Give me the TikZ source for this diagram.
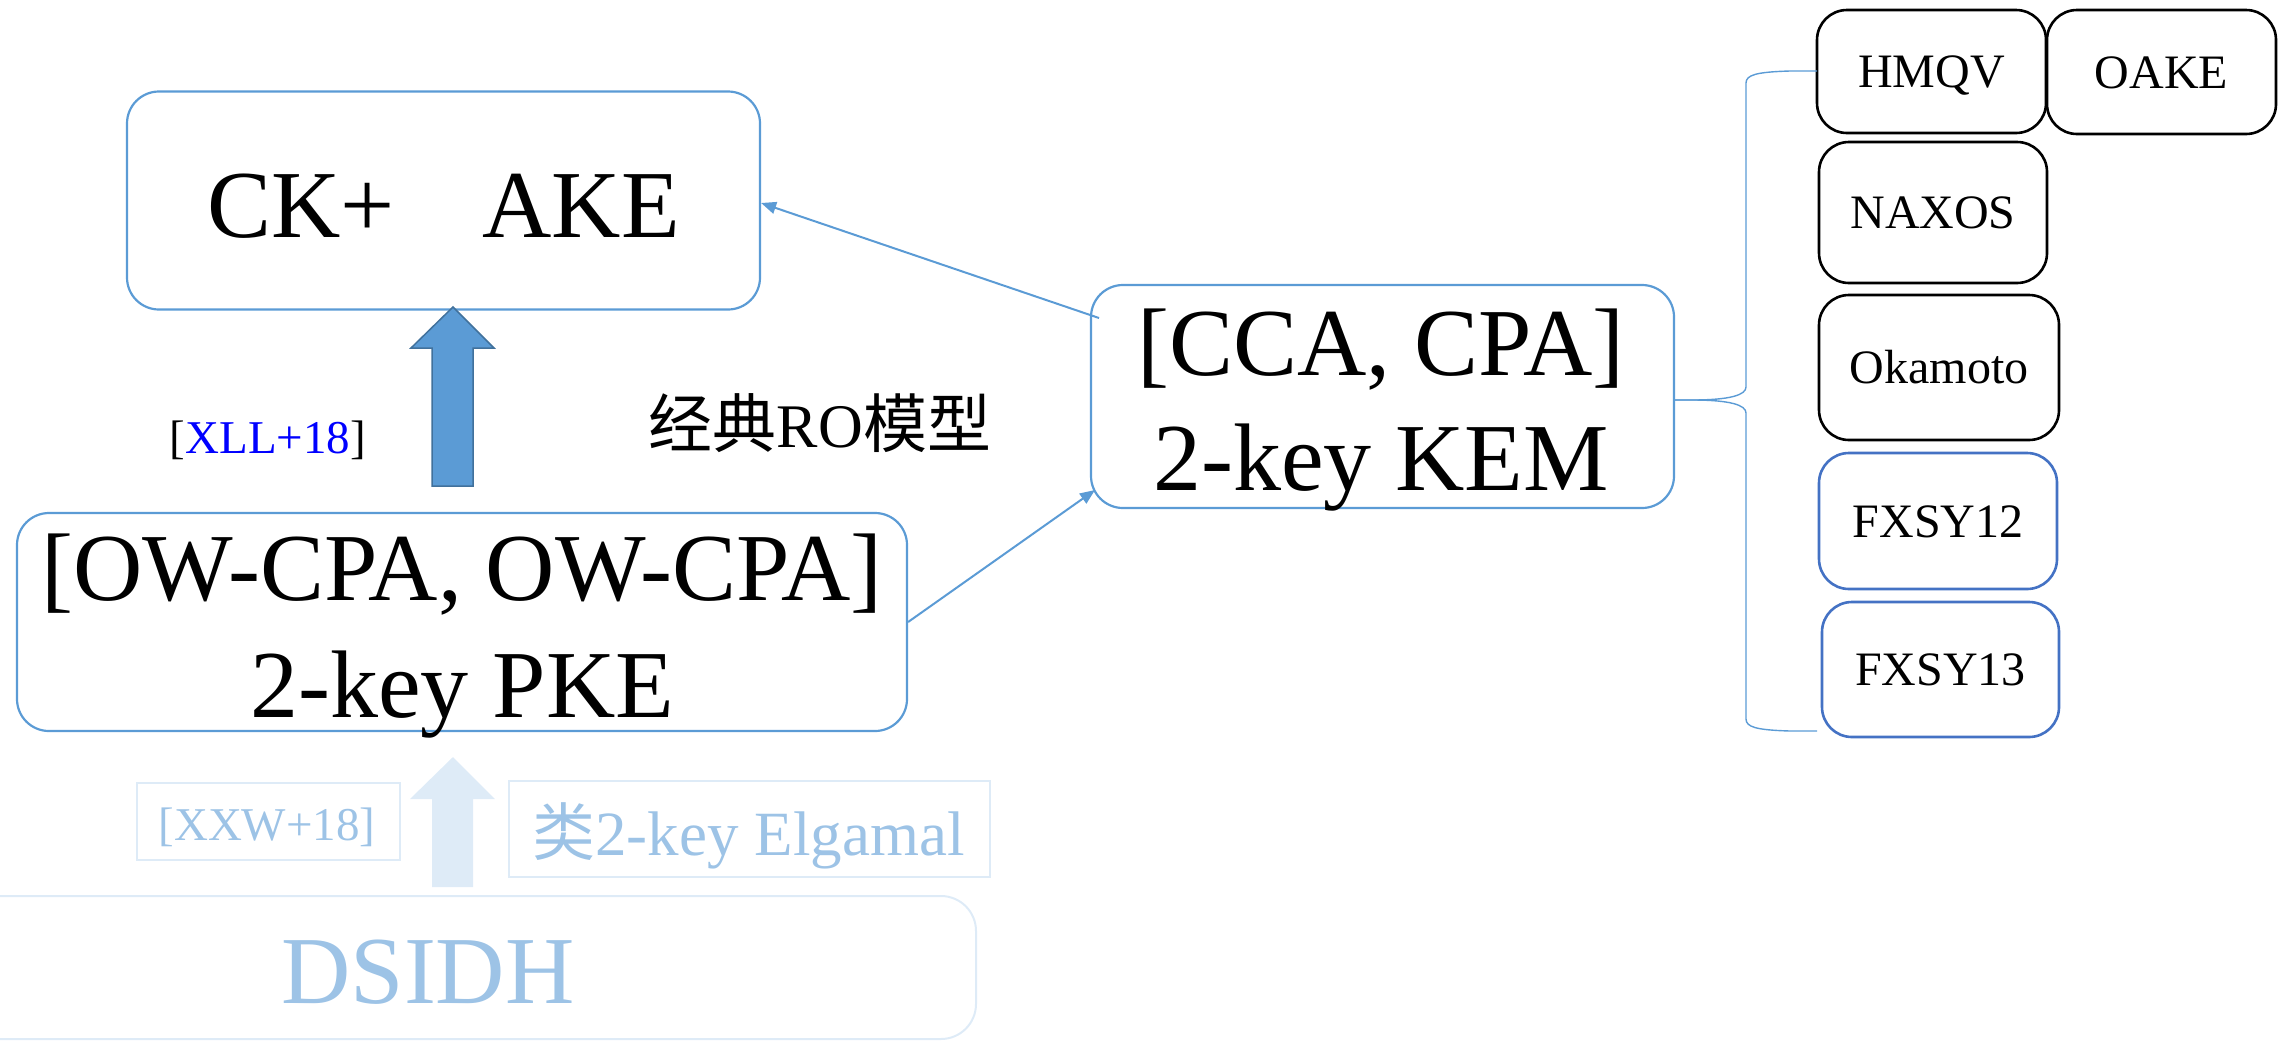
\documentclass[tikz,border=0pt]{standalone}
\usepackage{fontspec}
\setmainfont{Liberation Serif}
\newfontfamily\cjk{Noto Sans CJK SC}
\usetikzlibrary{arrows.meta}
\definecolor{kblue}{HTML}{5B9BD5}
\definecolor{kdark}{HTML}{41719C}
\definecolor{fxblue}{HTML}{4472C4}
\definecolor{fadetext}{HTML}{9DC3E6}
\definecolor{fadeline}{HTML}{DEEBF7}
\definecolor{pureblue}{HTML}{0000FF}
\begin{document}
\begin{tikzpicture}[x=1pt,y=-1pt,
  bluebox/.style={draw=kblue, line width=2.2pt, rounded corners=32pt, inner sep=0pt},
  smallbox/.style={draw=black, line width=2.6pt, rounded corners=30pt, inner sep=0pt,
    font=\fontsize{48}{56}\selectfont, text height=32pt, text depth=0pt},
  fxbox/.style={smallbox, draw=fxblue},
  fadebox/.style={draw=fadeline, line width=2pt, inner sep=0pt},
  bigtext/.style={font=\fontsize{96}{112}\selectfont, anchor=base, inner sep=0pt},
  conn/.style={draw=kblue, line width=2pt, -{Triangle[length=15pt,width=12pt]}},
  brace/.style={draw=kblue, line width=1.4pt},
  blockarrow/.style={fill=kblue, draw=kdark, line width=1.5pt, line join=miter},
  fadearrow/.style={fill=fadeline, draw=none}
]
\useasboundingbox (0,0) rectangle (2280,1042);

% main scheme boxes
\node[bluebox, minimum width=633, minimum height=218] (ake) at (443.5,200.5) {};
\node[bigtext] (akeT) at (443.5,237) {CK+\hspace{88pt}AKE};

\node[bluebox, minimum width=890, minimum height=218] (pke) at (462,622) {};
\node[bigtext] (pkeA) at (462,600) {[OW-CPA, OW-CPA]};
\node[bigtext] (pkeB) at (462,717) {2-key PKE};

\node[bluebox, minimum width=583, minimum height=223] (kem) at (1382.5,396.5) {};
\node[bigtext] (kemA) at (1381,375) {[CCA, CPA]};
\node[bigtext] (kemB) at (1381,490) {2-key KEM};

% labels
\node[font=\fontsize{47}{56}\selectfont, anchor=base, inner sep=0pt] (xll) at (268,453)
  {[\textcolor{pureblue}{XLL+18}]};
\node[anchor=base, inner sep=0pt] (ro) at (820,447)
  {\fontsize{64}{72}\selectfont{\cjk 经典}\fontsize{62}{72}\selectfont RO\fontsize{64}{72}\selectfont{\cjk 模型}};

% block arrow from PKE up to AKE
\draw[blockarrow] (432,486) -- (432,348) -- (411,348) -- (453,307) -- (494,348)
  -- (473,348) -- (473,486) -- cycle;

% connectors
\coordinate (kemIn) at (1095,490);
\coordinate (kemOut) at (1099,318);
\draw[conn] (pke.east) -- (kemIn);
\draw[conn] (kemOut) -- ([yshift=-2.5pt]ake.east);

% instantiations on the right
\node[smallbox, minimum width=229, minimum height=123] (hmqv) at (1931.5,71.5) {HMQV};
\node[smallbox, minimum width=229, minimum height=124] (oake) at (2161.5,72) {OAKE};
\node[smallbox, minimum width=228, minimum height=141] (naxos) at (1933,212.5) {NAXOS};
\node[smallbox, minimum width=240, minimum height=145] (okamoto) at (1939,367.5) {Okamoto};
\node[fxbox, minimum width=238, minimum height=136] (fx12) at (1938,521) {FXSY12};
\node[fxbox, minimum width=237, minimum height=135] (fx13) at (1940.5,669.5) {FXSY13};

% curly brace grouping the instantiations
\coordinate (btip) at (1674,400);
\coordinate (btop) at (1817,71);
\coordinate (bbot) at (1817,731);
\draw[brace] (btop) -- (1790,71) .. controls (1756,72) and (1746,75) .. (1746,83)
  -- (1746,387) .. controls (1746,395) and (1730,400) .. (1692,400) -- (btip);
\draw[brace] (btip) -- (1692,400) .. controls (1730,400) and (1746,405) .. (1746,413)
  -- (1746,719) .. controls (1746,727) and (1756,730) .. (1790,731) -- (bbot);

% faded lower layer
\node[fadebox, minimum width=263, minimum height=77] (xxw) at (268.5,821.5) {};
\node[font=\fontsize{47}{56}\selectfont, anchor=base, inner sep=0pt, text=fadetext] (xxwT)
  at (267,840) {[XXW+18]};
\node[fadebox, minimum width=481, minimum height=96] (elg) at (749.5,829) {};
\node[font=\fontsize{63}{72}\selectfont, anchor=base, inner sep=0pt, text=fadetext] (elgT)
  at (748.5,855) {{\cjk 类}2-key Elgamal};
\draw[fadearrow] (432,887) -- (432,799) -- (410,799) -- (453,757) -- (495,799)
  -- (473,799) -- (473,887) -- cycle;
\node[fadebox, rounded corners=35pt, minimum width=1036, minimum height=143] (dsidh) at (458,967.5) {};
\node[bigtext, text=fadetext] (dsidhT) at (428,1003) {DSIDH};
\end{tikzpicture}
\end{document}
